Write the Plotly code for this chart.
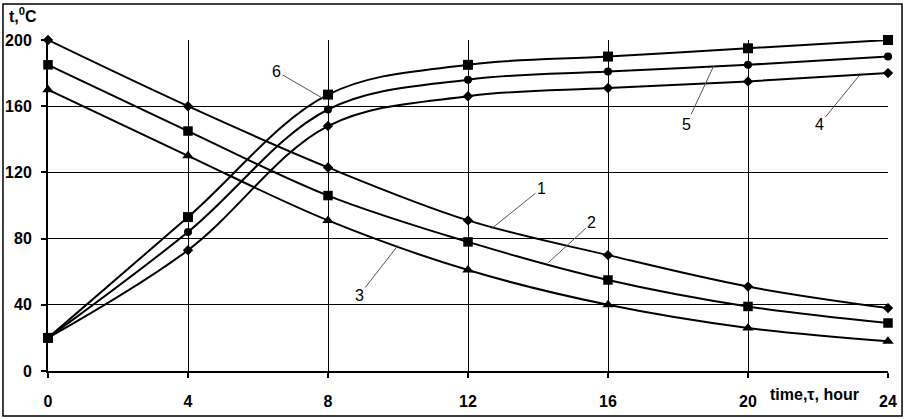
import plotly.graph_objects as go

hours = [0, 4, 8, 12, 16, 20, 24]

s1 = [200, 160, 123, 91, 70, 51, 38]
s2 = [185, 145, 106, 78, 55, 39, 29]
s3 = [170, 130, 91, 61, 40, 26, 18]
s4 = [20, 73, 148, 166, 171, 175, 180]
s5 = [20, 84, 158, 176, 181, 185, 190]
s6 = [20, 93, 167, 185, 190, 195, 200]

x_ticks = [0, 4, 8, 12, 16, 20, 24]
y_ticks = [0, 40, 80, 120, 160, 200]

# label: (text, point_x, point_y, text_x, text_y)
labels = [
    ("1", 12.67, 86.0, 14.1, 110.3),
    ("2", 14.29, 65.4, 15.54, 89.6),
    ("3", 10.0, 75.9, 8.89, 45.7),
    ("4", 23.17, 178.3, 22.04, 149.0),
    ("5", 19.02, 184.3, 18.24, 149.0),
    ("6", 7.85, 164.8, 6.53, 181.0),
]

FONT = "Liberation Sans, Arial, sans-serif"

series = [
    (s1, "diamond", 8),
    (s2, "square", 9.5),
    (s3, "triangle-up", 10),
    (s4, "diamond", 8),
    (s5, "circle", 8),
    (s6, "square", 10),
]

fig = go.Figure()
for ys, sym, sz in series:
    fig.add_trace(go.Scatter(
        x=hours, y=ys, mode="lines+markers",
        line=dict(color="black", width=2, shape="spline", smoothing=1),
        marker=dict(symbol=sym, size=sz, color="black", line=dict(width=0)),
        showlegend=False, cliponaxis=False,
    ))

annotations = []
for txt, px, py, tx, ty in labels:
    annotations.append(dict(
        x=px, y=py, ax=tx, ay=ty, xref="x", yref="y", axref="x", ayref="y",
        text=txt, showarrow=True, arrowhead=0, arrowwidth=1, arrowcolor="#555555",
        font=dict(family=FONT, size=16, color="black"), standoff=0, startstandoff=0,
    ))

annotations.append(dict(
    x=-0.049, y=1.075, xref="paper", yref="paper", xanchor="left", yanchor="middle",
    text="<b>t,<sup>0</sup>C</b>", showarrow=False,
    font=dict(family=FONT, size=16, color="black"),
))
annotations.append(dict(
    x=0.857, y=-0.072, xref="paper", yref="paper", xanchor="left", yanchor="middle",
    text="<b>time,τ, hour</b>", showarrow=False,
    font=dict(family=FONT, size=16, color="black"),
))

fig.update_layout(
    width=914, height=419,
    margin=dict(l=48, r=26, t=40, b=48, autoexpand=False),
    paper_bgcolor="white", plot_bgcolor="white",
    annotations=annotations,
    shapes=[dict(type="rect", xref="paper", yref="paper",
                 x0=-0.0536, x1=1.0167, y0=-0.136, y1=1.1088,
                 line=dict(color="black", width=1.5), layer="below")],
    xaxis=dict(range=[0, 24], tickvals=x_ticks, ticktext=[str(v) for v in x_ticks],
               automargin=False,
               showgrid=True, gridcolor="black", gridwidth=1,
               showline=True, linecolor="black", linewidth=2,
               ticks="outside", ticklen=5, tickwidth=2, tickcolor="black",
               zeroline=False, ticklabelstandoff=10,
               tickfont=dict(family=FONT, size=16, color="black", weight="bold")),
    yaxis=dict(range=[0, 200], tickvals=y_ticks, ticktext=[str(v) for v in y_ticks],
               automargin=False,
               showgrid=True, gridcolor="black", gridwidth=1,
               showline=True, linecolor="black", linewidth=2,
               ticks="outside", ticklen=5, tickwidth=2, tickcolor="black",
               zeroline=False, ticklabelstandoff=6,
               tickfont=dict(family=FONT, size=16, color="black", weight="bold")),
)

fig.write_html(
    "out.html",
    config={"displayModeBar": False},
    post_script="document.body.style.margin='0';document.body.style.overflow='hidden';",
)
